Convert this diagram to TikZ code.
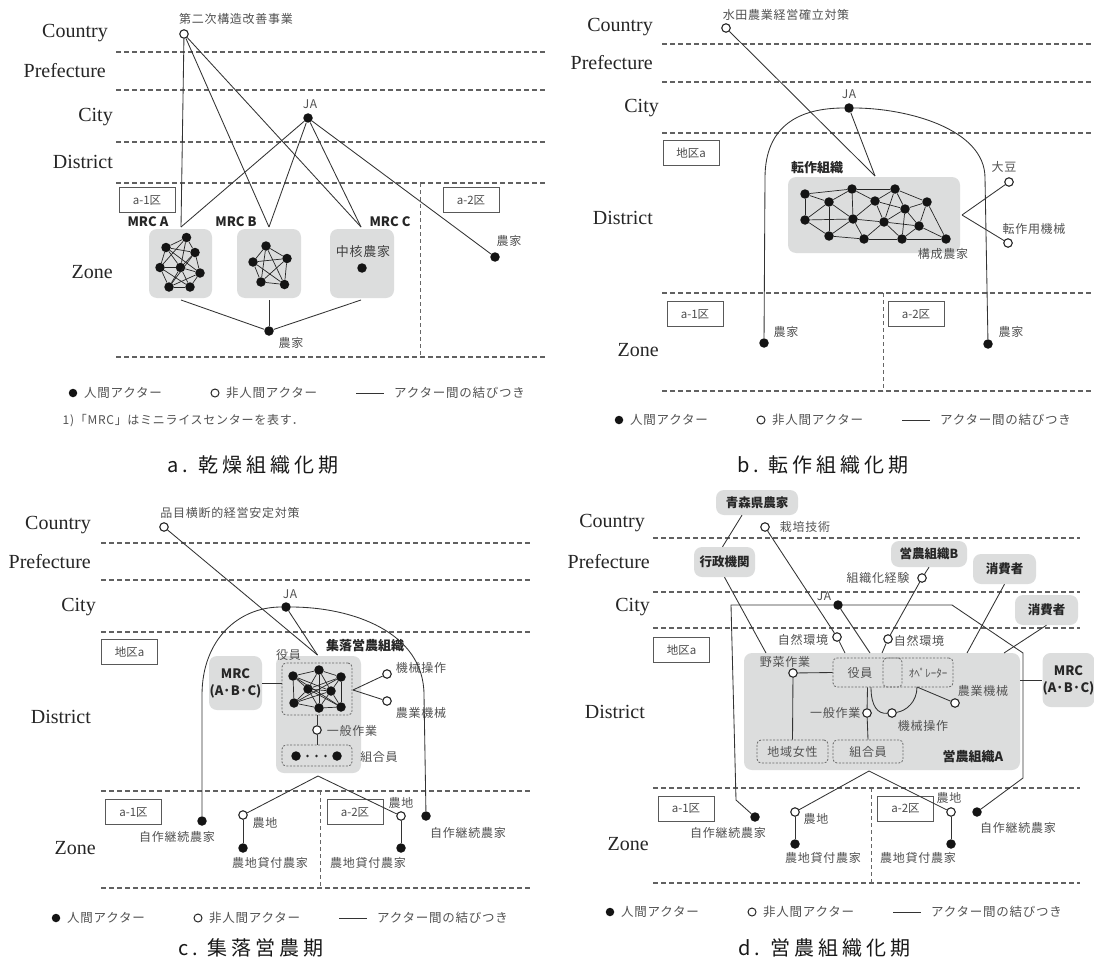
\documentclass[tikz,border=0pt]{standalone}
\usepackage{fontspec}
\setmainfont{Liberation Serif}
\newfontfamily\jp{Noto Sans CJK JP}[LetterSpace=6]
\newfontfamily\jpn{Noto Sans CJK JP}
\newfontfamily\jpcap{Noto Sans CJK JP}[LetterSpace=20]
\usetikzlibrary{calc}
\definecolor{boxgray}{HTML}{DCDDDD}
\tikzset{
  hum/.style={circle,fill=black!92,draw=none,minimum size=9.5pt,inner sep=0pt},
  non/.style={circle,fill=white,draw=black!85,line width=1.1pt,minimum size=8.5pt,inner sep=0pt},
  tiny/.style={circle,fill=black!85,draw=none,minimum size=2.6pt,inner sep=0pt},
  lk/.style={line width=0.85pt,draw=black!80},
  lk2/.style={line width=0.7pt,draw=black!85},
  lvl/.style={anchor=east,font=\fontsize{20}{20}\selectfont,text=black!85,inner sep=0pt},
  lbl/.style={font=\jp\fontsize{12}{12}\selectfont,text=black!68,inner sep=0.5pt},
  blbl/.style={font=\jpn\bfseries\fontsize{13}{13}\selectfont,text=black!85,inner sep=0.5pt},
  lev/.style={dash pattern=on 5pt off 3pt,line width=1.2pt,draw=black!62},
  vlev/.style={dash pattern=on 4pt off 3pt,line width=0.9pt,draw=black!60},
  zbox/.style={draw=black!65,line width=0.8pt,font=\jpn\fontsize{11.5}{11.5}\selectfont,text=black!70,minimum width=56pt,minimum height=25pt,inner sep=0pt},
  gbox/.style={fill=boxgray,draw=none,rounded corners=8pt,inner sep=0pt},
  gtxt/.style={gbox,font=\jpn\bfseries\fontsize{12.5}{12.5}\selectfont,text=black!85},
  dbox/.style={draw=black!60,dash pattern=on 2pt off 1.5pt,line width=0.8pt,rounded corners=4pt,inner sep=0pt},
  leg/.style={font=\jp\fontsize{12.5}{12.5}\selectfont,text=black!68,anchor=west,inner sep=0pt},
  captxt/.style={font=\jpcap\fontsize{20}{20}\selectfont,text=black!90,anchor=west,inner sep=0pt},
}
\newcommand\legrow[3]{%
  \node[hum,minimum size=8.5pt] (#1d) at (#2,#3) {};
  \node[leg] (#1t1) at (#2+11,#3) {人間アクター};
  \node[non,minimum size=8pt,line width=1pt] (#1c) at (#2+142,#3) {};
  \node[leg] (#1t2) at (#2+153,#3) {非人間アクター};
  \coordinate (#1l1) at (#2+283,#3);
  \coordinate (#1l2) at (#2+311,#3);
  \draw[lk] (#1l1) -- (#1l2);
  \node[leg] (#1t3) at (#2+321,#3) {アクター間の結びつき};
}
\begin{document}
\begin{tikzpicture}[x=1pt,y=-1pt]
\fill[white] (0,0) rectangle (1094,963);
\useasboundingbox (0,0) rectangle (1094,963);

% ================= a =================
\foreach \yy in {52,90,142,183,357} {\draw[lev] (116,\yy) -- (545,\yy);}
\draw[vlev] (420,183) -- (420,357);
\node[lvl] (aV1) at (108,33) {Country};
\node[lvl] (aV2) at (106,71) {Prefecture};
\node[lvl] (aV3) at (113,117) {City};
\node[lvl] (aV4) at (113,162) {District};
\node[lvl] (aV5) at (113,272) {Zone};
\node[non] (a0) at (184,34) {};
\node[lbl] (a0t) at (236,19) {第二次構造改善事業};
\node[hum] (aJ) at (308,118) {};
\node[lbl] (aJt) at (310,104) {JA};
\node[zbox] (aZ1) at (147,200) {a-1区};
\node[zbox] (aZ2) at (471,200) {a-2区};
\node[gbox,minimum width=63pt,minimum height=69pt] (aBA) at (180.5,263.5) {};
\node[gbox,minimum width=64pt,minimum height=69pt] (aBB) at (269,263.5) {};
\node[gbox,minimum width=64pt,minimum height=69pt] (aBC) at (362,263.5) {};
\node[blbl] (aMA) at (148,222) {MRC A};
\node[blbl] (aMB) at (236,222) {MRC B};
\node[blbl] (aMC) at (390,222) {MRC C};
\coordinate (aTA) at (181,227);
\coordinate (aTB) at (269,227);
\coordinate (aTC) at (361,227);
\node[hum] (aF2) at (495,257) {};
\node[lbl] (aF2t) at (509,241) {農家};
\draw[lk] (a0) -- (aTA); \draw[lk] (a0) -- (aTB); \draw[lk] (a0) -- (aTC);
\draw[lk] (aJ) -- (aTA); \draw[lk] (aJ) -- (aTB); \draw[lk] (aJ) -- (aTC); \draw[lk] (aJ) -- (aF2);
% network A
\node[hum] (aA1) at (186.5,237.5) {};
\node[hum] (aA2) at (166,247.5) {};
\node[hum] (aA3) at (195,252.5) {};
\node[hum] (aA4) at (160,267.5) {};
\node[hum] (aA5) at (180.5,267.5) {};
\node[hum] (aA6) at (200,273) {};
\node[hum] (aA7) at (169,287) {};
\node[hum] (aA8) at (190,287) {};
\foreach \u/\v in {1/2,1/3,1/5,1/4,2/3,2/4,2/5,2/6,3/5,3/6,3/7,4/5,4/7,4/8,5/6,5/7,5/8,6/8,6/7,7/8}
  {\draw[lk2] (aA\u) -- (aA\v);}
% network B
\node[hum] (aB1) at (266,246) {};
\node[hum] (aB2) at (253,262) {};
\node[hum] (aB3) at (287,258.5) {};
\node[hum] (aB4) at (261,282) {};
\node[hum] (aB5) at (284.5,284.5) {};
\foreach \u/\v in {1/2,1/3,1/4,1/5,2/3,2/4,2/5,3/4,3/5,4/5}
  {\draw[lk2] (aB\u) -- (aB\v);}
\node[lbl,font=\jp\fontsize{13}{13}\selectfont,text=black!75] (aCt) at (363,252) {中核農家};
\node[hum] (aCn) at (362,268) {};
\node[hum] (aF1) at (269,331) {};
\node[lbl] (aF1t) at (291,343) {農家};
\coordinate (aUA) at (181,300);
\coordinate (aUB) at (269,300);
\coordinate (aUC) at (361,300);
\draw[lk] (aUA) -- (aF1); \draw[lk] (aUB) -- (aF1); \draw[lk] (aUC) -- (aF1);
\legrow{aLeg}{73}{393}
\node[lbl,anchor=west] (aFn) at (62,421) {1)「MRC」はミニライスセンターを表す．};
\node[captxt] (aCap) at (167,465) {a.\hspace{10pt}乾燥組織化期};

% ================= b =================
\foreach \yy in {44,82,133,293,391} {\draw[lev] (662,\yy) -- (1093,\yy);}
\draw[vlev] (883,293) -- (883,391);
\node[lvl] (bV1) at (653,27) {Country};
\node[lvl] (bV2) at (653,63) {Prefecture};
\node[lvl] (bV3) at (659,108) {City};
\node[lvl] (bV4) at (653,218) {District};
\node[lvl] (bV5) at (659,350) {Zone};
\node[non] (b0) at (726,28) {};
\node[lbl] (b0t) at (786,15) {水田農業経営確立対策};
\node[hum] (bJ) at (849,108) {};
\node[lbl] (bJt) at (849,94) {JA};
\node[zbox] (bZa) at (691,153) {地区a};
\node[gbox,minimum width=172pt,minimum height=76pt] (bG) at (874,215) {};
\node[blbl] (bGt) at (817,168) {転作組織};
\coordinate (bT) at (875,176);
\draw[lk] (b0) -- (bT); \draw[lk] (bJ) -- (bT);
\node[hum] (bN1) at (805,194) {};
\node[hum] (bN2) at (829,202) {};
\node[hum] (bN3) at (852,189) {};
\node[hum] (bN4) at (875,201) {};
\node[hum] (bN5) at (895,189) {};
\node[hum] (bN6) at (905,209) {};
\node[hum] (bN7) at (927,202) {};
\node[hum] (bN8) at (805,220) {};
\node[hum] (bN9) at (853,219) {};
\node[hum] (bN10) at (884,222) {};
\node[hum] (bN11) at (919,226) {};
\node[hum] (bN12) at (829,236) {};
\node[hum] (bN13) at (864,239) {};
\node[hum] (bN14) at (902,239) {};
\node[hum] (bN15) at (946,239) {};
\foreach \u/\v in {1/2,1/3,1/8,2/3,2/8,2/9,2/12,3/5,3/4,3/9,4/5,4/9,4/10,4/6,5/6,5/7,5/10,6/7,6/10,6/11,6/14,7/11,7/15,8/9,8/12,9/12,9/13,9/10,10/13,10/14,10/11,11/15,11/14,12/13,13/14,14/15}
  {\draw[lk2] (bN\u) -- (bN\v);}
\node[lbl] (bGf) at (943,254) {構成農家};
\node[non] (bS) at (1009,182) {};
\node[lbl] (bSt) at (1004,167) {大豆};
\node[non] (bM) at (1008,243) {};
\node[lbl] (bMt) at (1034,229) {転作用機械};
\coordinate (bR) at (962,215);
\draw[lk] (bR) -- (bS); \draw[lk] (bR) -- (bM);
\node[zbox] (bZ1) at (695,314) {a-1区};
\node[zbox] (bZ2) at (916,314) {a-2区};
\node[hum] (bF1) at (764,343) {};
\node[lbl] (bF1t) at (786,332) {農家};
\node[hum] (bF2) at (988,344) {};
\node[lbl] (bF2t) at (1011,332) {農家};
\coordinate (bK1) at (765,178);
\coordinate (bK2) at (985,178);
\draw[lk] (bF1) -- (bK1) .. controls (765,125) and (800,108) .. (bJ) .. controls (905,108) and (985,128) .. (bK2) -- (bF2);
\legrow{bLeg}{619}{420}
\node[captxt] (bCap) at (737,465) {b.\hspace{10pt}転作組織化期};

% ================= c =================
\foreach \yy in {543,580,632,791,888} {\draw[lev] (101,\yy) -- (530,\yy);}
\draw[vlev] (320,791) -- (320,888);
\node[lvl] (cV1) at (91,525) {Country};
\node[lvl] (cV2) at (91,562) {Prefecture};
\node[lvl] (cV3) at (96,607) {City};
\node[lvl] (cV4) at (91,717) {District};
\node[lvl] (cV5) at (96,848) {Zone};
\node[non] (c0) at (164,527) {};
\node[lbl] (c0t) at (230,513) {品目横断的経営安定対策};
\node[hum] (cJ) at (286,607) {};
\node[lbl] (cJt) at (290,594) {JA};
\node[zbox] (cZa) at (129.5,652) {地区a};
\node[gbox,minimum width=85pt,minimum height=117pt] (cG) at (318.5,714.5) {};
\node[gtxt,minimum width=53pt,minimum height=54pt,align=center,font=\jpn\bfseries\fontsize{13}{17}\selectfont] (cM) at (235.5,683) {MRC\\(A·B·C)};
\node[dbox,minimum width=70pt,minimum height=52pt] (cR) at (317,689) {};
\node[lbl] (cRt) at (288.5,655) {役員};
\node[blbl] (cGt) at (365,646) {集落営農組織};
\coordinate (cT) at (317.5,655);
\draw[lk] (c0) -- (cT); \draw[lk] (cJ) -- (cT);
\draw[lk] (cM.east) -- (cM.east -| cR.west);
\node[hum] (cN1) at (293,676) {};
\node[hum] (cN2) at (319,670) {};
\node[hum] (cN3) at (341,677) {};
\node[hum] (cN4) at (308,689) {};
\node[hum] (cN5) at (331,691) {};
\node[hum] (cN6) at (294,703) {};
\node[hum] (cN7) at (319,708) {};
\node[hum] (cN8) at (341,707) {};
\foreach \u/\v in {1/2,2/3,3/8,8/7,7/6,6/1,1/4,1/5,2/4,2/5,3/4,3/5,4/5,4/6,4/7,4/8,5/6,5/7,5/8,1/8,3/6,2/7}
  {\draw[lk2] (cN\u) -- (cN\v);}
\node[non] (cK1) at (387,674) {};
\node[lbl] (cK1t) at (421,668) {機械操作};
\node[non] (cK2) at (387,701) {};
\node[lbl] (cK2t) at (421,713) {農業機械};
\coordinate (cRr) at (353,690);
\draw[lk] (cRr) -- (cK1); \draw[lk] (cRr) -- (cK2);
\node[non] (cW) at (317,730) {};
\node[lbl] (cWt) at (352,731) {一般作業};
\node[dbox,minimum width=70pt,minimum height=21pt] (cU) at (317,755.5) {};
\node[hum] (cU1) at (296,756) {};
\node[hum] (cU2) at (337,756) {};
\node[tiny] (cU3) at (307.5,756) {};
\node[tiny] (cU4) at (316.5,756) {};
\node[tiny] (cU5) at (325.5,756) {};
\node[lbl] (cUt) at (379,757) {組合員};
\draw[lk] (cR.south) -- (cW); \draw[lk] (cW) -- (cU.north);
\coordinate (cB) at (318,776);
\node[zbox] (cZ1) at (133.5,812) {a-1区};
\node[zbox] (cZ2) at (355,812) {a-2区};
\node[hum] (cF1) at (202,821) {};
\node[lbl] (cF1t) at (177,837) {自作継続農家};
\node[non] (cL1) at (243,815) {};
\node[lbl] (cL1t) at (265,823) {農地};
\node[hum] (cP1) at (243,848) {};
\node[lbl] (cP1t) at (270,863) {農地貸付農家};
\node[non] (cL2) at (401,816) {};
\node[lbl] (cL2t) at (401,803) {農地};
\node[hum] (cP2) at (401,848) {};
\node[lbl] (cP2t) at (368,863) {農地貸付農家};
\node[hum] (cF2) at (426,816) {};
\node[lbl] (cF2t) at (468,833) {自作継続農家};
\draw[lk] (cB) -- (cL1); \draw[lk] (cB) -- (cL2);
\draw[lk] (cL1) -- (cP1); \draw[lk] (cL2) -- (cP2);
\coordinate (cQ1) at (202,695);
\coordinate (cQ2) at (424,695);
\draw[lk] (cF1) -- (cQ1) .. controls (202,640) and (238,607) .. (cJ) .. controls (352,607) and (424,632) .. (cQ2) -- (cF2);
\legrow{cLeg}{56}{918}
\node[captxt] (cCap) at (178,948) {c.\hspace{10pt}集落営農期};

% ================= d =================
\foreach \yy in {538,592,628,788,883} {\draw[lev] (653,\yy) -- (1080,\yy);}
\draw[vlev] (871,788) -- (871,883);
\node[lvl] (dV1) at (645,523) {Country};
\node[lvl] (dV2) at (650,562) {Prefecture};
\node[lvl] (dV3) at (650,607) {City};
\node[lvl] (dV4) at (645,712) {District};
\node[lvl] (dV5) at (649,844) {Zone};
\node[gtxt,minimum width=82pt,minimum height=25pt] (dAo) at (757,502.5) {青森県農家};
\node[non] (dSai) at (765,527) {};
\node[lbl] (dSait) at (805,527) {栽培技術};
\node[gtxt,minimum width=61pt,minimum height=30pt] (dGov) at (724.5,562) {行政機関};
\node[gtxt,minimum width=76pt,minimum height=26pt] (dB) at (929,554) {営農組織B};
\node[non] (dExp) at (922,578) {};
\node[lbl] (dExpt) at (878,578) {組織化経験};
\node[gtxt,minimum width=63pt,minimum height=30pt] (dC1) at (1004.5,569) {消費者};
\node[gtxt,minimum width=63pt,minimum height=30pt] (dC2) at (1046.5,610) {消費者};
\node[gbox,minimum width=276pt,minimum height=117pt] (dG) at (882,711.5) {};
\node[gtxt,minimum width=49pt,minimum height=54pt,align=center,font=\jpn\bfseries\fontsize{13}{17}\selectfont] (dM) at (1068.5,680) {MRC\\(A·B·C)};
\node[hum] (dJ) at (838,605) {};
\node[lbl] (dJt) at (824,596) {JA};
\node[non] (dEnvL) at (837,637) {};
\node[lbl] (dEnvLt) at (803,640) {自然環境};
\node[non] (dEnvR) at (888,639) {};
\node[lbl] (dEnvRt) at (919,641) {自然環境};
\node[zbox] (dZa) at (681.5,650) {地区a};
\coordinate (dT1) at (766,653);
\coordinate (dT2) at (845,653);
\coordinate (dT3) at (870,653);
\coordinate (dT4) at (882,653);
\coordinate (dT5) at (967,653);
\coordinate (dT6) at (1004,653);
\draw[lk] ([xshift=-15pt]dAo.south) -- ([xshift=-2pt]dGov.north);
\draw[lk] (dGov.south) -- (dT1);
\draw[lk] (dSai) -- (dEnvL); \draw[lk] (dEnvL) -- (dT2);
\draw[lk] (dJ) -- (dT3);
\draw[lk] (dB.south) -- (dExp);
\draw[lk] (dExp) -- (dEnvR); \draw[lk] (dEnvR) -- (dT4);
\draw[lk] (dC1.south) -- (dT5);
\draw[lk] (dC2.south) -- (dT6);
\draw[lk] (dG.east |- dM.west) -- (dM.west);
% inside A
\node[dbox,minimum width=69pt,minimum height=29pt] (dRo) at (867.5,672.5) {};
\node[dbox,minimum width=70pt,minimum height=29pt] (dOpr) at (918,672.5) {};
\node[lbl] (dRot) at (860,673) {役員};
\node[lbl,font=\jpn\fontsize{11}{11}\selectfont] (dOprt) at (928,673) {ｵﾍﾟﾚｰﾀｰ};
\node[non] (dVeg) at (793,673) {};
\node[lbl] (dVegt) at (785,662) {野菜作業};
\draw[lk] (dVeg) -- (dRo.west);
\node[dbox,minimum width=71pt,minimum height=23pt] (dWo) at (792.5,751.5) {};
\node[lbl] (dWot) at (792.5,752) {地域女性};
\node[dbox,minimum width=70pt,minimum height=23pt] (dMe) at (868,751.5) {};
\node[lbl] (dMet) at (868,752) {組合員};
\draw[lk] (dVeg) -- (dWo.north);
\node[non] (dGen) at (867,713) {};
\node[lbl,anchor=east] (dGent) at (861,713) {一般作業};
\draw[lk] (dRo.south) -- (dGen); \draw[lk] (dGen) -- (dMe.north);
\node[non] (dOp) at (892,713) {};
\node[lbl] (dOpt) at (923,726) {機械操作};
\coordinate (dA1) at (871,687);
\coordinate (dA2) at (917,687);
\draw[lk] (dA1) .. controls (871,707) and (878,714) .. (dOp);
\draw[lk] (dOp) .. controls (906,711) and (917,702) .. (dA2);
\node[non] (dMa) at (955,703) {};
\node[lbl] (dMat) at (983,691) {農業機械};
\draw[lk] (dA2) -- (dMa);
\node[blbl] (dGt) at (973,757) {営農組織A};
% bottom
\coordinate (dBt) at (869,771);
\node[zbox] (dZ1) at (686,808.5) {a-1区};
\node[zbox] (dZ2) at (905.5,808.5) {a-2区};
\node[hum] (dF1) at (755,817) {};
\node[lbl] (dF1t) at (728,833) {自作継続農家};
\node[non] (dL1) at (795,812) {};
\node[lbl] (dL1t) at (816,819) {農地};
\node[hum] (dP1) at (795,844) {};
\node[lbl] (dP1t) at (823,858) {農地貸付農家};
\node[non] (dL2) at (951,812) {};
\node[lbl] (dL2t) at (949,798) {農地};
\node[hum] (dP2) at (951,844) {};
\node[lbl] (dP2t) at (918,858) {農地貸付農家};
\node[hum] (dF2) at (977,812) {};
\node[lbl] (dF2t) at (1018,828) {自作継続農家};
\draw[lk] (dBt) -- (dL1); \draw[lk] (dBt) -- (dL2);
\draw[lk] (dL1) -- (dP1); \draw[lk] (dL2) -- (dP2);
\coordinate (dQ1) at (736,800);
\coordinate (dQ2) at (731,605);
\coordinate (dQ3) at (952,605);
\coordinate (dQ4) at (1023,653);
\coordinate (dQ5) at (1023,778);
\draw[lk] (dF1) -- (dQ1) -- (dQ2) -- (dJ) -- (dQ3) -- (dQ4) -- (dQ5) -- (dF2);
\legrow{dLeg}{610}{912}
\node[captxt] (dCap) at (738,948) {d.\hspace{10pt}営農組織化期};
\end{tikzpicture}
\end{document}
